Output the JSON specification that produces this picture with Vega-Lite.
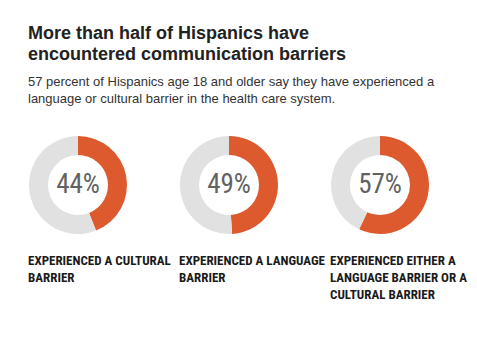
{
  "$schema": "https://vega.github.io/schema/vega-lite/v6.json",
  "background": "#ffffff",
  "padding": {"left": 28, "top": 25, "right": 10, "bottom": 10},
  "title": {
    "text": ["More than half of Hispanics have", "encountered communication barriers"],
    "subtitle": ["57 percent of Hispanics age 18 and older say they have experienced a", "language or cultural barrier in the health care system."],
    "anchor": "start",
    "font": "Liberation Sans",
    "fontSize": 18,
    "fontWeight": "bold",
    "color": "#222222",
    "lineHeight": 21,
    "subtitleFont": "Liberation Sans",
    "subtitleFontSize": 13,
    "subtitleColor": "#333333",
    "subtitleLineHeight": 17,
    "subtitlePadding": 12,
    "offset": 29
  },
  "data": {
    "values": [
      {"idx": 1, "group": "EXPERIENCED A CULTURAL|BARRIER", "part": "yes", "ord": 1, "share": 0.44},
      {"idx": 1, "group": "EXPERIENCED A CULTURAL|BARRIER", "part": "no", "ord": 2, "share": 0.56},
      {"idx": 2, "group": "EXPERIENCED A LANGUAGE|BARRIER", "part": "yes", "ord": 1, "share": 0.49},
      {"idx": 2, "group": "EXPERIENCED A LANGUAGE|BARRIER", "part": "no", "ord": 2, "share": 0.51},
      {"idx": 3, "group": "EXPERIENCED EITHER A|LANGUAGE BARRIER OR A|CULTURAL BARRIER", "part": "yes", "ord": 1, "share": 0.57},
      {"idx": 3, "group": "EXPERIENCED EITHER A|LANGUAGE BARRIER OR A|CULTURAL BARRIER", "part": "no", "ord": 2, "share": 0.43}
    ]
  },
  "facet": {
    "column": {
      "field": "group",
      "type": "nominal",
      "sort": {"field": "idx", "op": "min"},
      "header": {
        "title": null,
        "labelOrient": "bottom",
        "labelAnchor": "start",
        "labelAlign": "left",
        "labelBaseline": "top",
        "labelExpr": "split(datum.value, '|')",
        "labelFont": "Roboto Condensed",
        "labelFontSize": 13,
        "labelFontWeight": "bold",
        "labelColor": "#1a1a1a",
        "labelLineHeight": 17,
        "labelPadding": 20,
        "labelLimit": 0
      }
    }
  },
  "spacing": 51,
  "spec": {
    "width": 100,
    "height": 100,
    "layer": [
      {
        "mark": {"type": "arc", "outerRadius": 49, "innerRadius": 30, "stroke": null},
        "encoding": {
          "theta": {"field": "share", "type": "quantitative", "stack": true},
          "order": {"field": "ord", "type": "quantitative"},
          "color": {
            "field": "part",
            "type": "nominal",
            "scale": {"domain": ["yes", "no"], "range": ["#dd5a2e", "#e1e1e1"]},
            "legend": null
          }
        }
      },
      {
        "transform": [{"filter": "datum.part == 'yes'"}],
        "mark": {
          "type": "text",
          "font": "Roboto Condensed",
          "fontSize": 27,
          "color": "#626262",
          "align": "center",
          "baseline": "middle"
        },
        "encoding": {
          "text": {"field": "share", "type": "quantitative", "format": ".0%"}
        }
      }
    ]
  },
  "config": {
    "view": {"stroke": null}
  }
}
